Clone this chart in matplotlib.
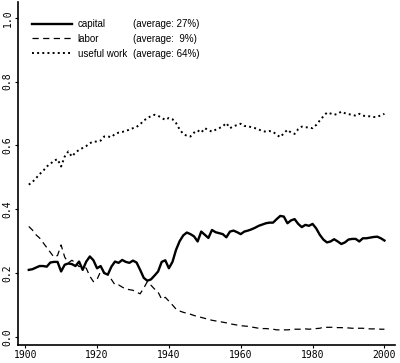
import numpy as np
import matplotlib
matplotlib.use('Agg')
import matplotlib.pyplot as plt

# capital share (solid)
cap_years = list(range(1901, 2001))
cap = [0.210, 0.212, 0.217, 0.222, 0.222, 0.220, 0.233, 0.235, 0.235, 0.205,
       0.226, 0.230, 0.228, 0.222, 0.236, 0.210, 0.236, 0.252, 0.240, 0.215,
       0.222, 0.200, 0.195, 0.220, 0.236, 0.232, 0.241, 0.235, 0.232, 0.239,
       0.233, 0.210, 0.185, 0.176, 0.180, 0.192, 0.205, 0.235, 0.240, 0.215,
       0.235, 0.273, 0.300, 0.318, 0.327, 0.322, 0.315, 0.299, 0.330, 0.320,
       0.310, 0.335, 0.328, 0.325, 0.322, 0.312, 0.330, 0.333, 0.328, 0.322,
       0.330, 0.333, 0.337, 0.342, 0.348, 0.352, 0.356, 0.358, 0.358, 0.369,
       0.379, 0.377, 0.356, 0.365, 0.369, 0.354, 0.344, 0.351, 0.348, 0.354,
       0.340, 0.320, 0.305, 0.296, 0.299, 0.306, 0.299, 0.291, 0.296, 0.305,
       0.307, 0.307, 0.299, 0.309, 0.309, 0.311, 0.313, 0.314, 0.309, 0.302]

# labor share (dashed)
lab_years = list(range(1901, 2001))
lab = [0.346, 0.335, 0.320, 0.310, 0.295, 0.280, 0.265, 0.250, 0.255, 0.288,
       0.250, 0.232, 0.240, 0.232, 0.220, 0.224, 0.215, 0.190, 0.173, 0.180,
       0.205, 0.200, 0.195, 0.180, 0.163, 0.163, 0.156, 0.150, 0.148, 0.146,
       0.140, 0.135, 0.153, 0.173, 0.162, 0.150, 0.140, 0.118, 0.124, 0.112,
       0.100, 0.087, 0.081, 0.077, 0.074, 0.071, 0.067, 0.064, 0.061, 0.058,
       0.055, 0.052, 0.050, 0.048, 0.046, 0.044, 0.041, 0.039, 0.037, 0.035,
       0.034, 0.033, 0.031, 0.029, 0.027, 0.026, 0.026, 0.025, 0.024, 0.022,
       0.022, 0.022, 0.022, 0.023, 0.024, 0.024, 0.024, 0.025, 0.024, 0.025,
       0.026, 0.027, 0.030, 0.030, 0.030, 0.030, 0.029, 0.029, 0.028, 0.028,
       0.027, 0.027, 0.027, 0.027, 0.026, 0.025, 0.025, 0.025, 0.024, 0.024]

# useful work share (dotted)
uw_years = list(range(1901, 2001))
uw = [0.477, 0.485, 0.497, 0.510, 0.520, 0.534, 0.542, 0.552, 0.557, 0.534,
      0.565, 0.581, 0.565, 0.578, 0.586, 0.592, 0.598, 0.607, 0.612, 0.612,
      0.615, 0.628, 0.628, 0.626, 0.636, 0.640, 0.642, 0.646, 0.649, 0.654,
      0.658, 0.666, 0.678, 0.685, 0.692, 0.696, 0.693, 0.686, 0.680, 0.686,
      0.682, 0.670, 0.650, 0.636, 0.630, 0.628, 0.640, 0.647, 0.640, 0.654,
      0.648, 0.643, 0.649, 0.654, 0.660, 0.670, 0.654, 0.660, 0.664, 0.668,
      0.661, 0.660, 0.657, 0.654, 0.650, 0.645, 0.643, 0.645, 0.643, 0.633,
      0.626, 0.638, 0.649, 0.640, 0.636, 0.651, 0.659, 0.657, 0.656, 0.654,
      0.664, 0.678, 0.691, 0.703, 0.700, 0.696, 0.699, 0.706, 0.701, 0.698,
      0.696, 0.693, 0.699, 0.693, 0.692, 0.691, 0.689, 0.690, 0.694, 0.699]

names = ['capital', 'labor', 'useful work']
averages = ['(average: 27%)', '(average:  9%)', '(average: 64%)']
xticks = [1900, 1920, 1940, 1960, 1980, 2000]
yticks = [0.0, 0.2, 0.4, 0.6, 0.8, 1.0]

fig = plt.figure(figsize=(4, 3.63), dpi=100)
ax = fig.add_axes([0.045, 0.05, 0.943, 0.945])

l1, = ax.plot(cap_years, cap, '-', color='black', linewidth=1.7)
l2, = ax.plot(lab_years, lab, color='black', linewidth=0.9, dashes=(5, 3.5))
l3, = ax.plot(uw_years, uw, ':', color='black', linewidth=1.4)

ax.set_xlim(1898, 2003)
ax.set_ylim(-0.025, 1.05)
ax.set_xticks(xticks)
ax.set_yticks(yticks)
ax.set_xticklabels([str(t) for t in xticks], family='DejaVu Sans Mono', fontsize=7)
ax.set_yticklabels(['%.1f' % t for t in yticks], family='DejaVu Sans Mono',
                   fontsize=7, rotation=90, va='center')
ax.tick_params(length=2, width=0.8, pad=2)
ax.spines['top'].set_visible(False)
ax.spines['right'].set_visible(False)
ax.spines['left'].set_linewidth(1.2)
ax.spines['bottom'].set_linewidth(1.2)

leg = ax.legend([l1, l2, l3], names, loc='upper left', bbox_to_anchor=(0.037, 0.95),
                frameon=False, borderpad=0, borderaxespad=0, handlelength=4.1,
                handletextpad=0.6, labelspacing=0.5,
                prop={'family': 'Liberation Sans', 'size': 7})

# averages column, aligned to legend rows
fig.canvas.draw()
x_avg = ax.transAxes.transform((0.305, 0))[0]
for t, a in zip(leg.get_texts(), averages):
    bb = t.get_window_extent()
    fig.text(x_avg / fig.bbox.width, (bb.y0 + bb.y1) / 2 / fig.bbox.height, a,
             family='Liberation Sans', fontsize=7, va='center', ha='left')

fig.savefig('out.png', dpi=100)
